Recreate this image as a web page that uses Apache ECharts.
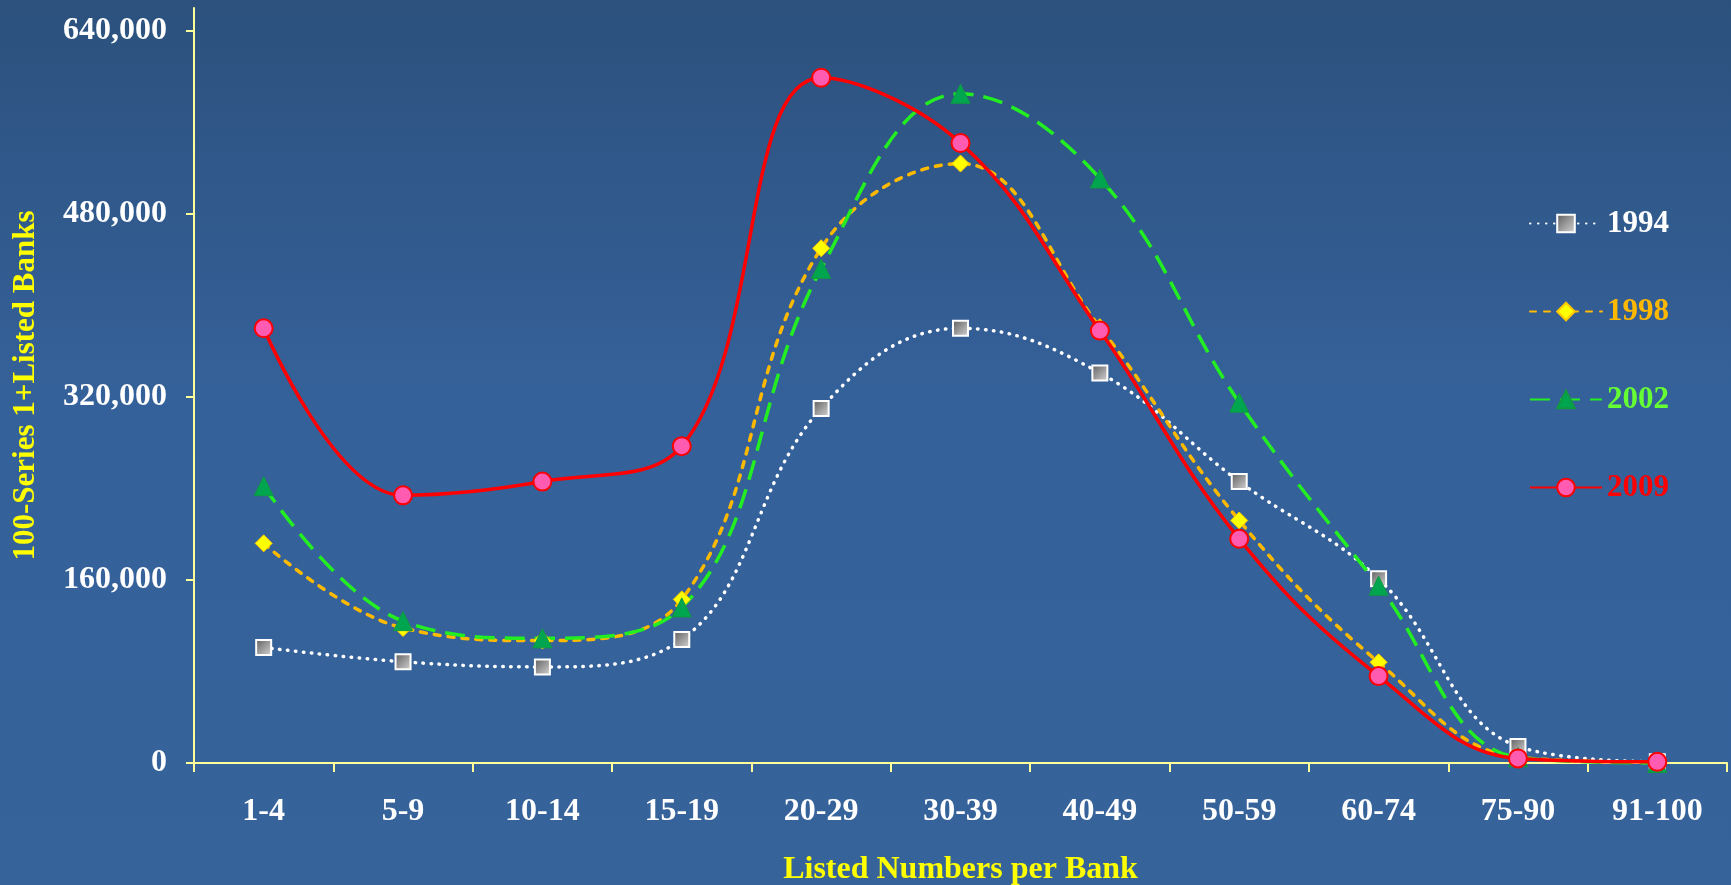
<!DOCTYPE html>
<html>
<head>
<meta charset="utf-8">
<script src="https://cdn.jsdelivr.net/npm/echarts@6/dist/echarts.min.js"></script>
<style>
html,body{margin:0;padding:0;width:1731px;height:885px;overflow:hidden;}
#chart{width:1731px;height:885px;}
</style>
</head>
<body>
<div id="chart"></div>
<script>
const categories = ['1-4','5-9','10-14','15-19','20-29','30-39','40-49','50-59','60-74','75-90','91-100'];
const seriesNames = ['1994','1998','2002','2009'];
const values1994 = [101000, 88500, 84000, 108000, 310000, 380000, 341000, 246000, 161000, 14500, 1000];
const values1998 = [192000, 118000, 107000, 143000, 450000, 524000, 381000, 212000, 88000, 5000, 500];
const values2002 = [242000, 124000, 109000, 136000, 432000, 585000, 511000, 315000, 155000, 5000, 0];
const values2009 = [380000, 234000, 246000, 277000, 599000, 542000, 378000, 196000, 76000, 4000, 1000];
const yTicks = [0, 160000, 320000, 480000, 640000];

const chart = echarts.init(document.getElementById('chart'));
const serif = '"Liberation Serif","Times New Roman",serif';
const smoothVal = 0.4;

chart.setOption({
  animation: false,
  backgroundColor: {
    type: 'linear', x: 0, y: 0, x2: 0, y2: 1,
    colorStops: [
      {offset: 0, color: '#2C517D'},
      {offset: 0.45, color: '#35619A'},
      {offset: 1, color: '#36639A'}
    ]
  },
  grid: {left: 194, right: 4, top: 8, bottom: 122, outerBoundsMode: 'none', containLabel: false},
  legend: {
    orient: 'vertical',
    left: 1524,
    top: 203,
    itemGap: 57,
    itemWidth: 72,
    itemHeight: 22,
    textStyle: {fontFamily: serif, fontWeight: 'bold', fontSize: 31},
    data: [
      {name: '1994', textStyle: {color: '#FFFFFF'}},
      {name: '1998', textStyle: {color: '#FFB800'}},
      {name: '2002', textStyle: {color: '#66FF33'}},
      {name: '2009', textStyle: {color: '#FF0000'}}
    ]
  },
  xAxis: {
    type: 'category',
    data: categories,
    boundaryGap: true,
    name: 'Listed Numbers per Bank',
    nameLocation: 'middle',
    nameGap: 91,
    nameTextStyle: {color: '#FFFF00', fontFamily: serif, fontWeight: 'bold', fontSize: 32},
    axisLine: {lineStyle: {color: '#FFFF99', width: 2}},
    axisTick: {show: true, alignWithLabel: false, length: 9, lineStyle: {color: '#FFFF99', width: 2}},
    axisLabel: {color: '#FFFFFF', fontFamily: serif, fontWeight: 'bold', fontSize: 32, margin: 33},
    splitLine: {show: false}
  },
  yAxis: {
    type: 'value',
    min: 0,
    max: 660000,
    interval: 160000,
    name: '100-Series 1+Listed Banks',
    nameLocation: 'middle',
    nameGap: 153,
    nameRotate: 90,
    nameTextStyle: {color: '#FFFF00', fontFamily: serif, fontWeight: 'bold', fontSize: 31},
    axisLine: {show: true, lineStyle: {color: '#FFFF99', width: 2}},
    axisTick: {show: true, length: 8, customValues: yTicks, lineStyle: {color: '#FFFF99', width: 2}},
    axisLabel: {
      color: '#FFFFFF', fontFamily: serif, fontWeight: 'bold', fontSize: 32, margin: 27,
      customValues: yTicks,
      formatter: v => v.toLocaleString('en-US')
    },
    splitLine: {show: false}
  },
  series: [
    {
      name: '1994', type: 'line', data: values1994, smooth: smoothVal,
      symbol: 'rect', symbolSize: 15,
      lineStyle: {color: '#FFFFFF', width: 3.5, type: [0.5, 7.5], cap: 'round'},
      itemStyle: {
        color: {type: 'linear', x: 0, y: 0, x2: 1, y2: 1, colorStops: [{offset: 0, color: '#5A5A5A'}, {offset: 1, color: '#D8D8D8'}]},
        borderColor: '#FFFFFF', borderWidth: 2
      }
    },
    {
      name: '1998', type: 'line', data: values1998, smooth: smoothVal,
      symbol: 'diamond', symbolSize: 17,
      lineStyle: {color: '#FFBA00', width: 3.5, type: [6, 8], cap: 'round'},
      itemStyle: {color: '#FFFF00', borderColor: '#FFC800', borderWidth: 1}
    },
    {
      name: '2002', type: 'line', data: values2002, smooth: smoothVal,
      symbol: 'triangle', symbolSize: 19,
      lineStyle: {color: '#22EE22', width: 3.5, type: [20, 10], cap: 'butt'},
      itemStyle: {color: '#00A550', borderColor: '#109A40', borderWidth: 1}
    },
    {
      name: '2009', type: 'line', data: values2009, smooth: smoothVal,
      symbol: 'circle', symbolSize: 18,
      lineStyle: {color: '#FF0000', width: 3.5},
      itemStyle: {color: '#FF5BB0', borderColor: '#FF0000', borderWidth: 2}
    }
  ]
});
</script>
</body>
</html>
